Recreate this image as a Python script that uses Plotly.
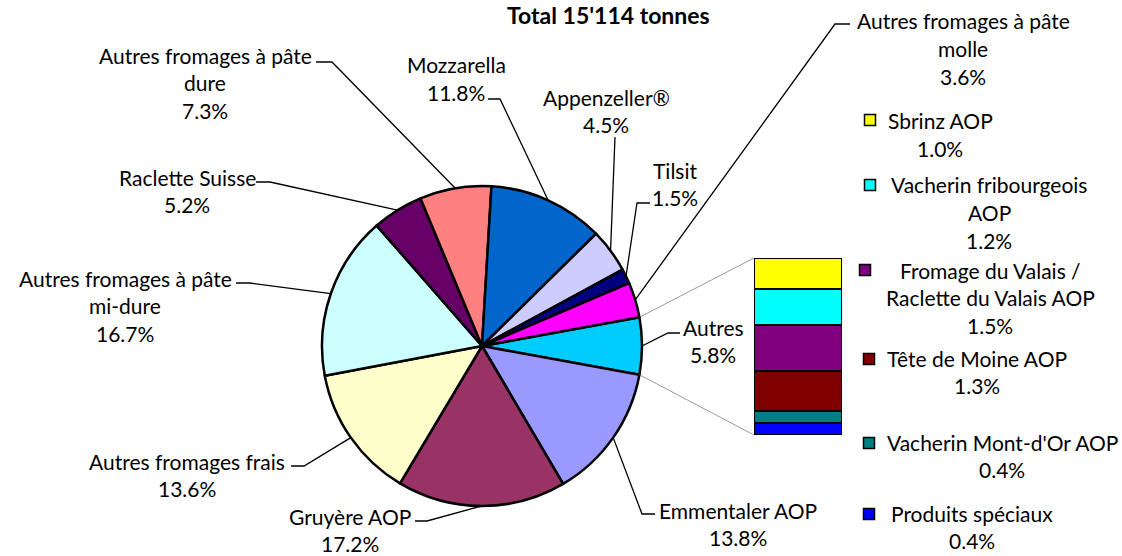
import math
import plotly.graph_objects as go

# --- données (ordre horaire en partant de "Autres") ---
fromages = ['Autres', 'Emmentaler AOP', 'Gruyère AOP', 'Autres fromages frais',
            'Autres fromages à pâte mi-dure', 'Raclette Suisse',
            'Autres fromages à pâte dure', 'Mozzarella', 'Appenzeller®',
            'Tilsit', 'Autres fromages à pâte molle']
parts = [5.8, 13.8, 17.2, 13.6, 16.7, 5.2, 7.3, 11.8, 4.5, 1.5, 3.6]
couleurs = ['#00CCFF', '#9999FF', '#993366', '#FFFFCC', '#CCFFFF', '#660066',
            '#FF8080', '#0066CC', '#CCCCFF', '#000080', '#FF00FF']

# détail de "Autres" (de haut en bas dans la barre)
autres_noms = ['Sbrinz AOP', 'Vacherin fribourgeois AOP',
               'Fromage du Valais / Raclette du Valais AOP', 'Tête de Moine AOP',
               "Vacherin Mont-d'Or AOP", 'Produits spéciaux']
autres_parts = [1.0, 1.2, 1.5, 1.3, 0.4, 0.4]
autres_couleurs = ['#FFFF00', '#00FFFF', '#800080', '#800000', '#008080', '#0000FF']

titre = "Total 15'114 tonnes"

# --- mise en page (pixels) ---
W, H = 1122, 556
CX, CY, R = 482, 346, 160
BAR_X0, BAR_X1, BAR_Y0, BAR_Y1 = 754, 842, 258, 435
FONT = 'Lato, Carlito, Calibri, sans-serif'
FS = 21
LH = 27.5

# retours à la ligne des étiquettes
coupures = {
    'Autres fromages à pâte mi-dure': ['Autres fromages à pâte', 'mi-dure'],
    'Autres fromages à pâte dure': ['Autres fromages à pâte', 'dure'],
    'Autres fromages à pâte molle': ['Autres fromages à pâte', 'molle'],
    'Vacherin fribourgeois AOP': ['Vacherin fribourgeois', 'AOP'],
    'Fromage du Valais / Raclette du Valais AOP': ['Fromage du Valais /', 'Raclette du Valais AOP'],
}

# position des étiquettes: centre x, y 1re ligne, départ du trait, coude
pos_etiq = {
    'Autres': (713, 327, (680, 333), (668, 333)),
    'Emmentaler AOP': (738, 510, (655, 514), (642, 514)),
    'Gruyère AOP': (350, 516, (415, 521), (427, 521)),
    'Autres fromages frais': (187, 461, (291, 466), (304, 466)),
    'Autres fromages à pâte mi-dure': (125, 278, (236, 283), (250, 283)),
    'Raclette Suisse': (187, 177, (256, 182), (270, 182)),
    'Autres fromages à pâte dure': (205, 55, (316, 62), (332, 62)),
    'Mozzarella': (456, 65, (488, 99), (500, 99)),
    'Appenzeller®': (606, 97, (615, 137), (615, 137)),
    'Tilsit': (675, 170, (650, 203), (637, 203)),
    'Autres fromages à pâte molle': (963, 21, (850, 24), (835, 24)),
}

# légende du détail: centre x du texte, y 1re ligne, centre x/y du carré
pos_leg = [(940, 121, 870, 120), (989, 185, 870, 185), (990, 270, 865, 270),
           (977, 358, 869, 359), (1002, 442, 869, 443), (972, 513, 869, 514)]


def pp(x, y):
    return x / W, 1 - y / H


total = sum(parts)
rotation = 90 - parts[0] / total * 180


def rim(angle):
    a = math.radians(angle)
    return CX + R * math.sin(a), CY - R * math.cos(a)


fig = go.Figure()

px0, py0 = pp(CX - R, CY + R)
px1, py1 = pp(CX + R, CY - R)
fig.add_trace(go.Pie(
    labels=fromages, values=parts, sort=False, direction='clockwise',
    rotation=rotation, textinfo='none', hoverinfo='label+percent',
    marker=dict(colors=couleurs, line=dict(color='black', width=2.5)),
    domain=dict(x=[px0, px1], y=[py0, py1]),
    showlegend=False,
))

for nom, v, c in zip(autres_noms[::-1], autres_parts[::-1], autres_couleurs[::-1]):
    fig.add_trace(go.Bar(
        x=[0], y=[v], width=1, name=nom, showlegend=False,
        marker=dict(color=c, line=dict(color='black', width=2)),
        hoverinfo='name+y',
    ))

annotations = []
shapes = []


def ajoute_texte(lignes, cx, y0, bold=False, size=FS):
    for i, t in enumerate(lignes):
        x, y = pp(cx, y0 + i * LH)
        annotations.append(dict(
            x=x, y=y, xref='paper', yref='paper', text=f'<b>{t}</b>' if bold else t,
            showarrow=False, xanchor='center', yanchor='middle',
            font=dict(family=FONT, size=size, color='black')))


# étiquettes et traits de rappel du camembert
cumul = rotation
for nom, v in zip(fromages, parts):
    angle = v / total * 360
    mid = cumul + angle / 2
    cumul += angle
    cx, y0, dep, coude = pos_etiq[nom]
    lignes = coupures.get(nom, [nom]) + [f'{v:.1f}%']
    ajoute_texte(lignes, cx, y0)
    rx, ry = rim(mid)
    pts = [pp(*dep), pp(*coude), pp(rx, ry)]
    path = 'M {} {} L {} {} L {} {}'.format(*[c for p in pts for c in p])
    shapes.append(dict(type='path', path=path, xref='paper', yref='paper',
                       line=dict(color='black', width=1.3)))

# lignes de liaison camembert -> barre
a0 = rotation
a1 = rotation + parts[0] / total * 360
for ang, by in [(a0, BAR_Y0), (a1, BAR_Y1)]:
    x0, y0 = pp(*rim(ang))
    x1, y1 = pp(BAR_X0, by)
    shapes.append(dict(type='line', x0=x0, y0=y0, x1=x1, y1=y1,
                       xref='paper', yref='paper',
                       line=dict(color='#808080', width=0.8)))

# légende du détail
for nom, v, c, (tx, ty, sx, sy) in zip(autres_noms, autres_parts, autres_couleurs, pos_leg):
    lignes = coupures.get(nom, [nom]) + [f'{v:.1f}%']
    ajoute_texte(lignes, tx, ty)
    x0, y0 = pp(sx - 5.5, sy + 5.5)
    x1, y1 = pp(sx + 5.5, sy - 5.5)
    shapes.append(dict(type='rect', x0=x0, y0=y0, x1=x1, y1=y1,
                       xref='paper', yref='paper', fillcolor=c,
                       line=dict(color='black', width=1.5)))

ajoute_texte([titre], 609, 15, bold=True, size=23)

bx0, by0 = pp(BAR_X0, BAR_Y1)
bx1, by1 = pp(BAR_X1, BAR_Y0)
fig.update_layout(
    width=W, height=H,
    margin=dict(l=0, r=0, t=0, b=0),
    paper_bgcolor='white', plot_bgcolor='rgba(0,0,0,0)',
    barmode='stack', bargap=0,
    xaxis=dict(domain=[bx0, bx1], range=[-0.5, 0.5], visible=False, fixedrange=True),
    yaxis=dict(domain=[by0, by1], range=[0, sum(autres_parts)],
               visible=False, fixedrange=True),
    annotations=annotations,
    shapes=shapes,
    font=dict(family=FONT),
)

# la page html a une marge de 8px par défaut autour du graphique
fig.write_html("out.html", config={'displayModeBar': False},
               post_script="document.body.style.margin='0';")
